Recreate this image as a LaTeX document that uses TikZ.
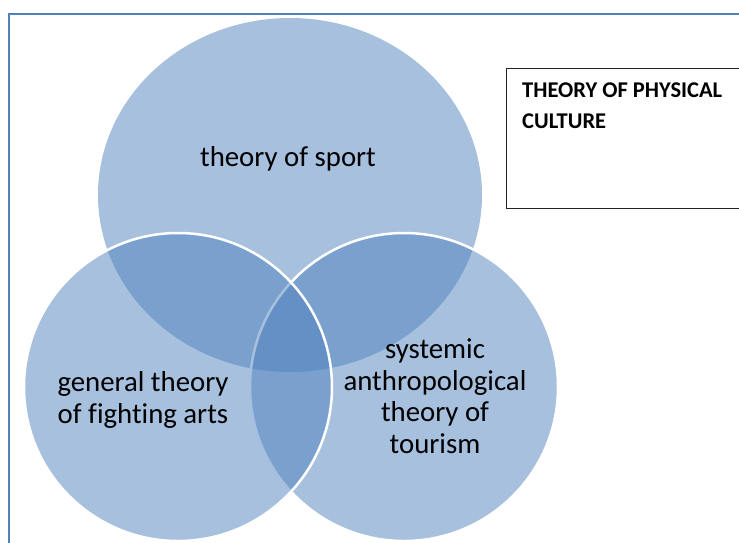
\documentclass[tikz,border=0pt]{standalone}
\usepackage{fontspec}
\setmainfont{Carlito}[Ligatures=NoCommon]
\usetikzlibrary{positioning, shapes.geometric}

\definecolor{setblue}{RGB}{79,129,189}
\definecolor{boxline}{RGB}{35,35,35}

\begin{document}
\begin{tikzpicture}[x=1pt, y=-1pt,
  set node/.style={ellipse, fill=setblue, fill opacity=0.5, draw=white,
    line width=2.5pt, inner sep=0pt},
  set text/.style={align=center, anchor=base, inner sep=0pt,
    font=\fontsize{28.8}{31.5}\selectfont},
  title box/.style={draw=boxline, line width=1.2pt, inner sep=0pt, anchor=north west}]

\useasboundingbox (0,0) rectangle (739,542);
\clip (0,0) rectangle (739,542);

% page frame, runs off the right and bottom edges
\draw[setblue, line width=1.6pt] (9,14) rectangle (770,580);

% the three sets
\node[set node, draw=none, minimum width=384pt, minimum height=354pt] (sport) at (290,195) {};
\node[set node, minimum width=308pt, minimum height=308pt] (tourism) at (404,387) {};
\node[set node, minimum width=308pt, minimum height=308pt] (fight) at (178,387) {};

% labels (base = last line)
\node[set text] (sportlbl) at (288,166) {theory of sport};
\node[set text] (fightlbl) at (143,423) {general theory\\of fighting arts};
\node[set text] (tourlbl) at (435,453) {systemic\\anthropological\\theory of\\tourism};

% heading box
\node[title box, minimum width=260pt, minimum height=140pt] (box) at (506,68) {};
\node[anchor=base west, align=left, inner sep=0pt,
  font=\fontsize{22.5}{31}\selectfont\bfseries] (title) at (522,128)
  {THEORY OF PHYSICAL\\CULTURE};

\end{tikzpicture}
\end{document}
